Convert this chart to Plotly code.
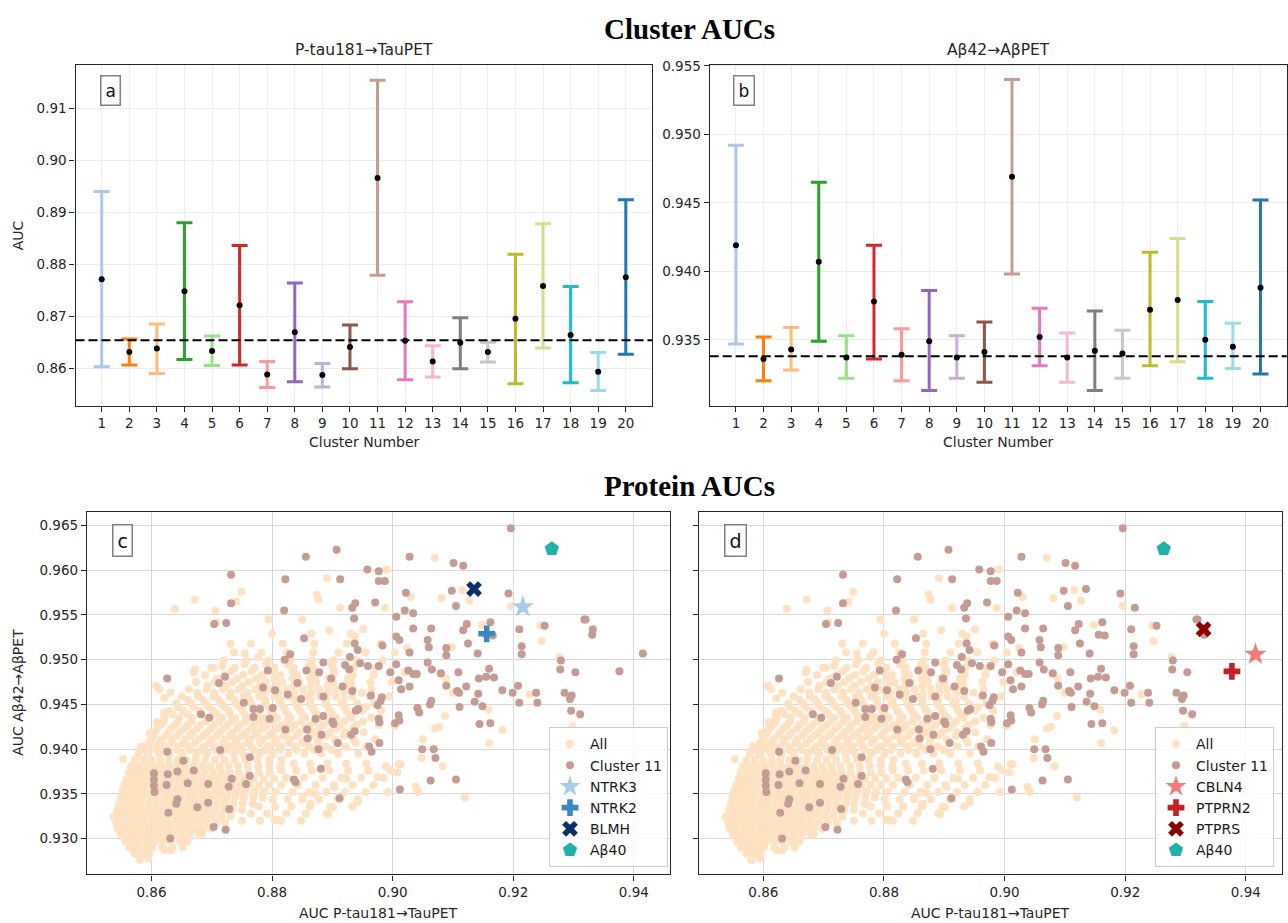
import plotly.graph_objects as go

# ---------------------------------------------------------------- cluster AUCs
clusters = list(range(1, 21))

tau_mean = [0.8771, 0.8631, 0.8638, 0.8748, 0.8633, 0.8721, 0.8588, 0.8669, 0.8587, 0.8641,
            0.8966, 0.8653, 0.8613, 0.8649, 0.8631, 0.8695, 0.8758, 0.8664, 0.8593, 0.8775]
tau_lo = [0.8603, 0.8606, 0.8590, 0.8617, 0.8605, 0.8606, 0.8563, 0.8574, 0.8564, 0.8599,
          0.8779, 0.8578, 0.8583, 0.8599, 0.8612, 0.8570, 0.8639, 0.8572, 0.8557, 0.8627]
tau_hi = [0.8940, 0.8656, 0.8685, 0.8880, 0.8662, 0.8836, 0.8613, 0.8764, 0.8609, 0.8683,
          0.9154, 0.8728, 0.8643, 0.8697, 0.8650, 0.8819, 0.8878, 0.8757, 0.8630, 0.8924]
tau_ref = 0.8654

ab_mean = [0.9419, 0.9336, 0.9343, 0.9407, 0.9337, 0.9378, 0.9339, 0.9349, 0.9337, 0.9341,
           0.9469, 0.9352, 0.9337, 0.9342, 0.9340, 0.9372, 0.9379, 0.9350, 0.9345, 0.9388]
ab_lo = [0.9347, 0.9320, 0.9328, 0.9349, 0.9322, 0.9336, 0.9320, 0.9313, 0.9322, 0.9319,
         0.9398, 0.9331, 0.9319, 0.9313, 0.9322, 0.9331, 0.9334, 0.9322, 0.9329, 0.9325]
ab_hi = [0.9492, 0.9352, 0.9359, 0.9465, 0.9353, 0.9419, 0.9358, 0.9386, 0.9353, 0.9363,
         0.9540, 0.9373, 0.9355, 0.9371, 0.9357, 0.9414, 0.9424, 0.9378, 0.9362, 0.9452]
ab_ref = 0.9338

cluster_colors = ["#aec7e8", "#ff7f0e", "#ffbb78", "#2ca02c", "#98df8a", "#d62728", "#ff9896",
                  "#9467bd", "#c5b0d5", "#8c564b", "#c49c94", "#e377c2", "#f7b6d2", "#7f7f7f",
                  "#c7c7c7", "#bcbd22", "#dbdb8d", "#17becf", "#9edae5", "#1f77b4"]

tau_ticks = [0.86, 0.87, 0.88, 0.89, 0.90, 0.91]
ab_ticks = [0.935, 0.940, 0.945, 0.950, 0.955]

# ---------------------------------------------------------------- protein AUCs
# (AUC P-tau181->TauPET, AUC Abeta42->AbetaPET) for proteins in cluster 11
cluster11_points = [
    (0.9196, 0.9647), (0.8907, 0.9623), (0.8856, 0.9615), (0.9028, 0.9615), (0.9101, 0.9608),
    (0.9117, 0.9605), (0.8958, 0.9601), (0.8977, 0.9599), (0.8732, 0.9595), (0.8822, 0.9590),
    (0.8913, 0.9590), (0.8977, 0.9588), (0.8987, 0.9588), (0.9135, 0.9579), (0.9098, 0.9577),
    (0.9022, 0.9575), (0.9192, 0.9574), (0.8732, 0.9563), (0.8971, 0.9564), (0.8938, 0.9563),
    (0.8933, 0.9558), (0.9105, 0.9560), (0.9216, 0.9558), (0.8820, 0.9555), (0.9020, 0.9555),
    (0.9034, 0.9552), (0.9006, 0.9548), (0.8936, 0.9546), (0.8704, 0.9540), (0.8724, 0.9541),
    (0.9318, 0.9545), (0.9252, 0.9538), (0.9162, 0.9542), (0.9123, 0.9540), (0.9034, 0.9535),
    (0.9064, 0.9535), (0.9210, 0.9534), (0.9117, 0.9533), (0.9156, 0.9528), (0.9166, 0.9527),
    (0.8853, 0.9524), (0.9006, 0.9526), (0.9011, 0.9522), (0.9058, 0.9522), (0.9125, 0.9518),
    (0.8937, 0.9518), (0.8983, 0.9516), (0.8942, 0.9511), (0.9060, 0.9514), (0.9089, 0.9513),
    (0.9214, 0.9515), (0.8830, 0.9506), (0.9028, 0.9508), (0.9141, 0.9507), (0.9089, 0.9505),
    (0.9214, 0.9506), (0.8821, 0.9500), (0.8929, 0.9503), (0.8885, 0.9497), (0.8946, 0.9496),
    (0.9006, 0.9495), (0.9279, 0.9499), (0.8921, 0.9494), (0.8959, 0.9493), (0.8977, 0.9493),
    (0.8793, 0.9488), (0.8857, 0.9488), (0.8878, 0.9486), (0.8928, 0.9489), (0.8996, 0.9486),
    (0.9026, 0.9488), (0.9058, 0.9497), (0.9065, 0.9489), (0.9034, 0.9484), (0.9040, 0.9484),
    (0.9080, 0.9485), (0.9109, 0.9486), (0.9160, 0.9490), (0.9143, 0.9479), (0.9155, 0.9481),
    (0.9168, 0.9480), (0.9278, 0.9489), (0.9303, 0.9486), (0.8626, 0.9479), (0.8722, 0.9481),
    (0.8712, 0.9474), (0.8898, 0.9479), (0.8842, 0.9474), (0.8785, 0.9469), (0.8805, 0.9466),
    (0.8826, 0.9461), (0.8917, 0.9470), (0.8933, 0.9465), (0.9010, 0.9477), (0.9014, 0.9467),
    (0.9028, 0.9470), (0.9089, 0.9471), (0.9122, 0.9470), (0.9107, 0.9465), (0.9110, 0.9463),
    (0.9208, 0.9471), (0.9199, 0.9463), (0.9182, 0.9466), (0.9142, 0.9462), (0.9238, 0.9463),
    (0.9285, 0.9463), (0.9297, 0.9460), (0.9294, 0.9456), (0.9240, 0.9452), (0.9210, 0.9452),
    (0.8753, 0.9452), (0.8769, 0.9445), (0.8780, 0.9445), (0.8848, 0.9456), (0.8885, 0.9459),
    (0.8964, 0.9460), (0.8982, 0.9458), (0.8980, 0.9454), (0.8975, 0.9449), (0.8943, 0.9445),
    (0.8939, 0.9443), (0.9041, 0.9446), (0.9064, 0.9454), (0.9044, 0.9441), (0.9136, 0.9453),
    (0.9149, 0.9448), (0.9111, 0.9447), (0.9062, 0.9450), (0.9296, 0.9443), (0.9311, 0.9439),
    (0.8682, 0.9439), (0.8696, 0.9435), (0.8769, 0.9436), (0.8796, 0.9434), (0.8801, 0.9446),
    (0.8822, 0.9422), (0.8872, 0.9434), (0.8885, 0.9437), (0.8858, 0.9422), (0.8882, 0.9416),
    (0.8900, 0.9431), (0.8902, 0.9428), (0.8931, 0.9416), (0.8937, 0.9420), (0.8977, 0.9434),
    (0.8978, 0.9430), (0.9004, 0.9429), (0.9011, 0.9432), (0.9010, 0.9438), (0.9144, 0.9428),
    (0.9162, 0.9429), (0.8714, 0.9399), (0.8859, 0.9412), (0.8909, 0.9407), (0.8978, 0.9407),
    (0.8961, 0.9403), (0.8965, 0.9397), (0.8877, 0.9400), (0.9049, 0.9400), (0.9068, 0.9400),
    (0.9071, 0.9390), (0.8763, 0.9391), (0.8626, 0.9397), (0.8653, 0.9387), (0.8643, 0.9375),
    (0.8670, 0.9376), (0.8660, 0.9362), (0.8694, 0.9361), (0.8733, 0.9367), (0.8604, 0.9373),
    (0.8604, 0.9366), (0.8604, 0.9359), (0.8605, 0.9352), (0.8625, 0.9360), (0.8627, 0.9372),
    (0.8643, 0.9344), (0.8641, 0.9339), (0.8628, 0.9329), (0.8676, 0.9335), (0.8694, 0.9340),
    (0.8728, 0.9358), (0.8757, 0.9361), (0.8763, 0.9370), (0.8729, 0.9333), (0.8836, 0.9366),
    (0.8839, 0.9363), (0.8881, 0.9378), (0.8912, 0.9345), (0.9012, 0.9355), (0.9063, 0.9365),
    (0.9105, 0.9366), (0.8703, 0.9313), (0.8723, 0.9310), (0.8631, 0.9300), (0.9415, 0.9507),
    (0.9376, 0.9487), (0.9320, 0.9545), (0.9332, 0.9534), (0.9331, 0.9528),
]

# all proteins: scattered points outside the dense cloud
all_outer_points = [
    (0.9070, 0.9614), (0.8990, 0.9601), (0.9116, 0.9578), (0.9127, 0.9566), (0.9081, 0.9569),
    (0.9030, 0.9570), (0.8891, 0.9591), (0.8874, 0.9573), (0.8877, 0.9567), (0.8749, 0.9576),
    (0.8741, 0.9565), (0.8672, 0.9567), (0.8639, 0.9557), (0.8706, 0.9555), (0.8708, 0.9542),
    (0.8794, 0.9545), (0.8850, 0.9545), (0.8895, 0.9533), (0.8913, 0.9558), (0.8951, 0.9534),
    (0.8937, 0.9526), (0.8987, 0.9558), (0.9196, 0.9560), (0.9245, 0.9538), (0.9247, 0.9521),
    (0.9148, 0.9539), (0.9227, 0.9461), (0.9277, 0.9503), (0.9298, 0.9426), (0.9182, 0.9421),
    (0.9160, 0.9407), (0.9159, 0.9444), (0.9120, 0.9346), (0.9038, 0.9358), (0.9042, 0.9352),
    (0.8942, 0.9341), (0.8893, 0.9327), (0.8901, 0.9335), (0.8864, 0.9339), (0.8851, 0.9347),
    (0.8804, 0.9321), (0.8808, 0.9321), (0.9083, 0.9381), (0.9010, 0.9383), (0.8989, 0.9381),
    (0.9070, 0.9423), (0.9077, 0.9425), (0.9087, 0.9437), (0.9050, 0.9411), (0.9048, 0.9390),
    (0.8731, 0.9518), (0.8755, 0.9507), (0.8777, 0.9503), (0.8717, 0.9493), (0.8699, 0.9491),
    (0.8672, 0.9489), (0.8670, 0.9486), (0.8608, 0.9471), (0.8613, 0.9467), (0.8631, 0.9463),
    (0.8621, 0.9457), (0.8621, 0.9441), (0.8621, 0.9438), (0.8609, 0.9430), (0.8597, 0.9418),
    (0.8553, 0.9389), (0.8537, 0.9324), (0.8543, 0.9314), (0.8550, 0.9307), (0.8580, 0.9276),
    (0.8594, 0.9278), (0.8571, 0.9290), (0.8622, 0.9287), (0.8632, 0.9287), (0.8650, 0.9296),
    (0.8684, 0.9305), (0.8665, 0.9307), (0.9098, 0.9514), (0.9100, 0.9463), (0.9024, 0.9513),
    (0.9088, 0.9479), (0.9079, 0.9484), (0.9020, 0.9486), (0.9003, 0.9426), (0.9013, 0.9383),
    (0.9008, 0.9374), (0.8975, 0.9369), (0.8960, 0.9376), (0.8923, 0.9367), (0.8904, 0.9357),
    (0.8870, 0.9351),
]

# all proteins, dense cloud: rows of (AUC Abeta x1000, [AUC tau x1000, ...])
all_core_rows = [
    (928.3, [857.2, 858.4, 859.6]),
    (929.0, [856.3, 857.6, 858.9, 860.1, 861.8, 863.5, 865.2]),
    (929.7, [855.6, 856.8, 858.0, 859.3, 860.6, 861.9, 863.1, 864.6, 866.0]),
    (930.4, [854.9, 856.1, 857.3, 858.6, 859.8, 861.1, 862.4, 863.7, 865.0, 866.3, 867.9]),
    (931.1, [854.4, 855.6, 856.9, 858.1, 859.4, 860.7, 861.9, 863.2, 864.5, 865.8, 867.1, 868.4, 869.8]),
    (931.8, [854.2, 855.3, 856.5, 857.8, 859.0, 860.3, 861.6, 862.8, 864.1, 865.4, 866.7, 868.0, 869.3,
             870.7, 872.2]),
    (932.5, [854.0, 855.1, 856.3, 857.5, 858.7, 860.0, 861.2, 862.5, 863.8, 865.0, 866.3, 867.6, 868.9,
             870.2, 871.6, 873.1]),
    (933.2, [854.3, 855.5, 856.7, 857.9, 859.1, 860.4, 861.6, 862.9, 864.2, 865.4, 866.7, 868.0, 869.3,
             870.6, 872.0, 873.4, 875.0]),
    (933.9, [854.6, 855.8, 857.0, 858.2, 859.5, 860.7, 862.0, 863.2, 864.5, 865.8, 867.0, 868.3, 869.6,
             870.9, 872.2, 873.6, 875.1, 876.8]),
    (934.6, [854.9, 856.1, 857.3, 858.5, 859.8, 861.0, 862.3, 863.5, 864.8, 866.1, 867.3, 868.6, 869.9,
             871.2, 872.5, 873.9, 875.3, 876.9, 878.5]),
    (935.3, [855.2, 856.4, 857.6, 858.8, 860.1, 861.3, 862.6, 863.9, 865.1, 866.4, 867.7, 868.9, 870.2,
             871.5, 872.9, 874.2, 875.6, 877.1, 878.7]),
    (936.0, [855.5, 856.7, 857.9, 859.1, 860.4, 861.6, 862.9, 864.2, 865.4, 866.7, 868.0, 869.3, 870.6,
             871.9, 873.3, 874.7, 876.2, 877.8, 879.5]),
    (936.7, [855.9, 857.1, 858.3, 859.5, 860.8, 862.0, 863.3, 864.6, 865.8, 867.1, 868.4, 869.7, 871.0,
             872.4, 873.8, 875.3, 876.9, 878.6, 880.4]),
    (937.4, [856.2, 857.4, 858.6, 859.9, 861.1, 862.4, 863.7, 865.0, 866.2, 867.5, 868.8, 870.2, 871.6,
             873.0, 874.5, 876.1, 877.8, 879.6]),
    (938.1, [856.6, 857.9, 859.1, 860.4, 861.7, 863.0, 864.3, 865.6, 867.0, 868.4, 869.8, 871.3, 872.8,
             874.4, 876.0, 877.7, 879.5, 881.4]),
    (938.8, [857.2, 858.6, 860.0, 861.4, 862.8, 864.3, 865.8, 867.3, 868.9, 870.5, 872.1, 873.8, 875.6,
             877.5, 879.5, 881.6]),
]

# all proteins, diagonal band above the dense cloud
all_band_rows = [
    (939.5, [857.8, 859.4, 861.3, 863.0, 865.1, 867.4, 869.2, 871.5, 873.6, 875.2, 877.9, 880.1, 882.7,
             885.4, 888.2, 891.0, 894.3]),
    (940.3, [858.3, 860.2, 862.1, 864.4, 866.2, 868.7, 870.4, 872.9, 874.8, 876.6, 879.3, 881.5, 883.8,
             886.1, 888.9, 892.2, 895.6]),
    (941.1, [859.9, 861.7, 863.5, 865.6, 867.8, 869.9, 872.2, 874.1, 876.3, 878.4, 880.7, 883.0, 885.6,
             887.7, 890.4, 893.5, 897.1]),
    (941.9, [860.6, 862.8, 864.7, 866.9, 869.2, 871.3, 873.5, 875.7, 877.6, 880.0, 882.4, 884.5, 886.9,
             889.6, 892.1, 895.2]),
    (942.7, [861.5, 863.9, 866.0, 868.1, 870.5, 872.6, 874.6, 877.0, 879.1, 881.6, 883.7, 886.3, 888.5,
             891.3, 894.0, 897.7]),
    (943.5, [862.2, 864.6, 866.8, 869.4, 871.7, 873.9, 876.2, 878.6, 880.8, 883.1, 885.5, 887.9, 890.6,
             893.2, 896.5]),
    (944.3, [863.0, 865.3, 867.9, 870.2, 872.8, 875.1, 877.5, 879.7, 882.2, 884.6, 887.0, 889.6, 892.3,
             895.0, 898.1]),
    (945.1, [864.1, 866.6, 869.0, 871.6, 874.0, 876.4, 878.9, 881.3, 883.9, 886.3, 888.8, 891.5, 894.1,
             897.0]),
    (945.9, [865.0, 867.7, 870.3, 872.9, 875.3, 877.9, 880.4, 882.9, 885.4, 887.9, 890.6, 893.3, 896.2,
             899.4]),
    (946.7, [866.2, 869.1, 871.8, 874.5, 877.2, 879.8, 882.4, 885.1, 887.8, 890.5, 893.4, 896.5]),
    (947.5, [867.4, 870.5, 873.4, 876.2, 879.0, 881.7, 884.5, 887.3, 890.1, 893.1, 896.3, 899.8]),
    (948.3, [868.9, 872.1, 875.2, 878.3, 881.3, 884.2, 887.2, 890.2, 893.4, 896.8]),
    (949.1, [870.3, 873.8, 877.1, 880.4, 883.6, 886.9, 890.1, 893.5, 897.2]),
    (949.9, [872.0, 875.7, 879.4, 883.0, 886.6, 890.2, 894.0, 898.3]),
    (950.8, [873.7, 878.2, 882.5, 886.8, 891.0, 895.5, 900.4]),
    (951.8, [876.5, 881.8, 887.0, 892.4, 898.0]),
    (952.9, [880.0, 886.5, 893.0]),
]

# all proteins, densest middle of the band
all_band_mid_rows = [
    (939.9, [858.9, 860.8, 862.6, 864.3, 866.4, 868.2, 870.6, 872.3, 874.3, 876.9, 878.8, 881.2, 884.1,
             887.0, 889.9]),
    (940.7, [859.5, 861.2, 863.3, 865.3, 867.2, 869.6, 871.8, 873.9, 875.9, 878.0, 880.4, 882.8, 885.0,
             887.6, 890.8, 893.9]),
    (941.5, [860.3, 862.4, 864.2, 866.4, 868.6, 870.8, 873.0, 875.0, 877.2, 879.5, 881.9, 884.1, 886.3,
             889.0, 891.9]),
    (942.3, [861.0, 863.3, 865.5, 867.6, 869.9, 872.0, 874.3, 876.5, 878.5, 880.8, 883.2, 885.5, 887.8,
             890.6, 893.4]),
    (943.1, [862.0, 864.4, 866.7, 869.0, 871.2, 873.3, 875.5, 877.9, 880.1, 882.5, 884.8, 887.1, 889.5,
             892.0, 895.1]),
    (943.9, [863.5, 866.0, 868.3, 870.8, 873.1, 875.5, 877.7, 880.2, 882.6, 885.0, 887.4, 890.0, 892.8]),
    (944.7, [864.4, 867.0, 869.5, 872.1, 874.6, 877.0, 879.4, 881.9, 884.3, 886.7, 889.3, 892.0, 895.6]),
    (945.5, [866.0, 868.6, 871.2, 873.8, 876.3, 878.9, 881.4, 883.8, 886.4, 889.0, 891.9]),
    (946.3, [867.6, 870.4, 873.2, 875.9, 878.5, 881.1, 883.7, 886.5, 889.2, 892.0, 894.9]),
    (947.1, [869.3, 872.3, 875.1, 878.0, 880.8, 883.6, 886.4, 889.2, 892.2]),
    (947.9, [871.0, 874.2, 877.4, 880.4, 883.4, 886.3, 889.4, 892.6]),
    (948.7, [873.2, 876.6, 880.0, 883.4, 886.8, 890.3]),
    (949.5, [875.4, 879.0, 882.6, 886.2, 889.9]),
]

# all proteins, lower right flank of the cloud
all_flank_rows = [
    (932.0, [875.0, 878.0, 881.5, 884.8]),
    (932.8, [876.5, 879.2, 882.4, 885.6, 889.0]),
    (933.6, [877.8, 880.5, 883.2, 886.3, 889.7, 893.3]),
    (934.4, [880.1, 882.6, 885.0, 887.8, 890.9, 894.2]),
    (935.2, [880.6, 883.4, 886.1, 889.0, 892.1, 895.5, 899.2]),
    (936.0, [881.5, 884.3, 887.2, 890.2, 893.4, 896.8]),
    (936.8, [882.3, 885.3, 888.4, 891.5, 894.8, 898.5]),
    (937.6, [881.5, 884.0, 886.6, 889.5, 892.6, 895.9, 899.6]),
    (938.4, [883.6, 886.3, 889.2, 892.3, 895.6]),
]

# highlighted proteins: name -> (AUC tau, AUC Abeta)
highlight_c = {"NTRK3": (0.9216, 0.9559), "NTRK2": (0.9156, 0.9529), "BLMH": (0.9135, 0.9579)}
highlight_d = {"CBLN4": (0.9416, 0.9506), "PTPRN2": (0.9377, 0.9487), "PTPRS": (0.9330, 0.9534)}
abeta40 = (0.9264, 0.9624)

protein_x_ticks = [0.86, 0.88, 0.90, 0.92, 0.94]
protein_y_ticks = [0.930, 0.935, 0.940, 0.945, 0.950, 0.955, 0.960, 0.965]

# ---------------------------------------------------------------- assemble
all_x, all_y = [], []
for px_, py_ in all_outer_points:
    all_x.append(px_)
    all_y.append(py_)
for rows in (all_core_rows, all_band_rows, all_band_mid_rows, all_flank_rows):
    for yv, xs in rows:
        for xv in xs:
            all_x.append(xv / 1000.0)
            all_y.append(yv / 1000.0)
cl_x = [p[0] for p in cluster11_points]
cl_y = [p[1] for p in cluster11_points]

W, H = 1288, 923
FONT = "DejaVu Sans"
INK = "#262626"

fig = go.Figure()

# error bars, one trace per cluster
for axes, mean, lo, hi in (("", tau_mean, tau_lo, tau_hi), ("2", ab_mean, ab_lo, ab_hi)):
    for i, c in enumerate(clusters):
        fig.add_trace(go.Scatter(
            x=[c], y=[mean[i]], mode="markers",
            marker=dict(color="black", size=6),
            error_y=dict(type="data", symmetric=False,
                         array=[hi[i] - mean[i]], arrayminus=[mean[i] - lo[i]],
                         color=cluster_colors[i], thickness=3, width=8),
            xaxis="x" + axes, yaxis="y" + axes, showlegend=False, hoverinfo="skip"))

special_styles = {
    "NTRK3": dict(symbol="star", color="#a9cce8", size=17),
    "NTRK2": dict(symbol="cross", color="#3a87c2", size=14),
    "BLMH": dict(symbol="x", color="#0b2f66", size=14),
    "CBLN4": dict(symbol="star", color="#f27b7b", size=17),
    "PTPRN2": dict(symbol="cross", color="#c62026", size=14),
    "PTPRS": dict(symbol="x", color="#8b0000", size=14),
}

for axes, legend, hl in (("3", "legend", highlight_c), ("4", "legend2", highlight_d)):
    fig.add_trace(go.Scatter(x=all_x, y=all_y, mode="markers", name="All",
                             marker=dict(color="#ffe2c2", size=8, line=dict(width=0)),
                             xaxis="x" + axes, yaxis="y" + axes, legend=legend))
    fig.add_trace(go.Scatter(x=cl_x, y=cl_y, mode="markers", name="Cluster 11",
                             marker=dict(color="#c49c94", size=8, line=dict(width=0)),
                             xaxis="x" + axes, yaxis="y" + axes, legend=legend))
    for name, (xv, yv) in hl.items():
        st = special_styles[name]
        fig.add_trace(go.Scatter(x=[xv], y=[yv], mode="markers", name=name,
                                 marker=dict(symbol=st["symbol"], color=st["color"], size=st["size"],
                                             line=dict(width=0)),
                                 xaxis="x" + axes, yaxis="y" + axes, legend=legend))
    fig.add_trace(go.Scatter(x=[abeta40[0]], y=[abeta40[1]], mode="markers", name="Aβ40",
                             marker=dict(symbol="pentagon", color="#20b2aa", size=15, line=dict(width=0)),
                             xaxis="x" + axes, yaxis="y" + axes, legend=legend))


def dom_x(a, b):
    return [a / W, b / W]


def dom_y(top, bottom):
    return [1 - bottom / H, 1 - top / H]


base_axis = dict(showline=True, linecolor=INK, linewidth=1.3, mirror=True,
                 ticks="outside", ticklen=5, tickwidth=1.2, tickcolor=INK,
                 tickfont=dict(family=FONT, size=13.5, color=INK),
                 showgrid=True, gridwidth=1, zeroline=False, fixedrange=True)

top_grid = "#ececec"
bot_grid = "#d8d8d8"

layout_axes = dict(
    xaxis=dict(base_axis, domain=dom_x(75.5, 652), range=[0.05, 20.95], tickvals=clusters,
               gridcolor=top_grid, anchor="y"),
    yaxis=dict(base_axis, domain=dom_y(58, 401.7), range=[0.8528, 0.9184], tickvals=tau_ticks,
               tickformat=".2f", gridcolor=top_grid, anchor="x"),
    xaxis2=dict(base_axis, domain=dom_x(709.7, 1286.7), range=[0.05, 20.95], tickvals=clusters,
                gridcolor=top_grid, anchor="y2"),
    yaxis2=dict(base_axis, domain=dom_y(58, 401.7), range=[0.93019, 0.9551], tickvals=ab_ticks,
                tickformat=".3f", gridcolor=top_grid, anchor="x2"),
    xaxis3=dict(base_axis, domain=dom_x(87, 670), range=[0.8493, 0.946], tickvals=protein_x_ticks,
                tickformat=".2f", gridcolor=bot_grid, anchor="y3"),
    yaxis3=dict(base_axis, domain=dom_y(509, 874), range=[0.926, 0.9665], tickvals=protein_y_ticks,
                tickformat=".3f", gridcolor=bot_grid, anchor="x3"),
    xaxis4=dict(base_axis, domain=dom_x(698.8, 1282), range=[0.8493, 0.946], tickvals=protein_x_ticks,
                tickformat=".2f", gridcolor=bot_grid, anchor="y4"),
    yaxis4=dict(base_axis, domain=dom_y(509, 874), range=[0.926, 0.9665], tickvals=protein_y_ticks,
                showticklabels=False, gridcolor=bot_grid, anchor="x4"),
)

shapes = [
    dict(type="line", xref="x domain", yref="y", x0=0, x1=1, y0=tau_ref, y1=tau_ref,
         line=dict(color="black", width=2, dash="9px,4px"), layer="above"),
    dict(type="line", xref="x2 domain", yref="y2", x0=0, x1=1, y0=ab_ref, y1=ab_ref,
         line=dict(color="black", width=2, dash="9px,4px"), layer="above"),
]


def label(text, x, y, size=14, angle=0, family=FONT, bold=False, color=INK):
    t = "<b>%s</b>" % text if bold else text
    return dict(text=t, x=x / W, y=1 - y / H, xref="paper", yref="paper", showarrow=False,
                xanchor="center", yanchor="middle", textangle=angle,
                font=dict(family=family, size=size, color=color))


def panel_tag(text, x, y, size):
    return dict(text=text, x=x / W, y=1 - y / H, xref="paper", yref="paper", showarrow=False,
                xanchor="center", yanchor="middle", bgcolor="white", bordercolor="#808080",
                borderwidth=1.5, borderpad=4, font=dict(family=FONT, size=size, color="#111111"))


annotations = [
    label("Cluster AUCs", 689, 22, size=29, family="Liberation Serif, Times New Roman, serif",
          bold=True, color="black"),
    label("Protein AUCs", 689, 483, size=29, family="Liberation Serif, Times New Roman, serif",
          bold=True, color="black"),
    label("P-tau181→TauPET", 364, 43, size=15.5),
    label("Aβ42→AβPET", 998, 43, size=15.5),
    label("Cluster Number", 364, 438),
    label("Cluster Number", 998, 438),
    label("AUC", 18, 230, angle=-90),
    label("AUC P-tau181→TauPET", 378, 913),
    label("AUC P-tau181→TauPET", 990, 913),
    label("AUC Aβ42→AβPET", 18, 691, angle=-90),
    panel_tag("a", 110, 84.5, 17),
    panel_tag("b", 744, 84.5, 17),
    panel_tag("c", 122, 537.5, 19),
    panel_tag("d", 735, 537.7, 19),
]

legend_style = dict(bgcolor="rgba(255,255,255,0.85)", bordercolor="#cccccc", borderwidth=1,
                    font=dict(family=FONT, size=14, color="#1a1a1a"), tracegroupgap=0,
                    itemsizing="trace", yanchor="bottom", xanchor="right", y=1 - 867 / H)

fig.update_layout(
    width=W, height=H, margin=dict(l=0, r=0, t=0, b=0),
    paper_bgcolor="white", plot_bgcolor="white",
    font=dict(family=FONT, size=14, color=INK),
    shapes=shapes, annotations=annotations,
    legend=dict(legend_style, x=668 / W),
    legend2=dict(legend_style, x=1274 / W),
    **layout_axes,
)

fig.write_html("out.html", config={"displayModeBar": False})
